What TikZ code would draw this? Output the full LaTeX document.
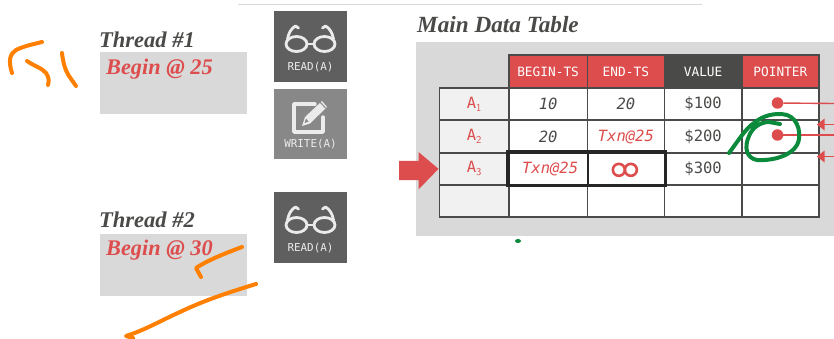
\documentclass[tikz,border=0pt]{standalone}
\usepackage{fontspec}
\setmainfont{Liberation Serif}
\setmonofont{DejaVu Sans Mono}
\definecolor{redc}{HTML}{DD4D4D}
\definecolor{darkc}{HTML}{5F5F5F}
\definecolor{midc}{HTML}{888888}
\definecolor{greyc}{HTML}{D9D9D9}
\definecolor{linec}{HTML}{4A4A48}
\definecolor{orangec}{HTML}{FF8000}
\definecolor{greenc}{HTML}{0B8A3C}
\definecolor{keyc}{HTML}{F1F1F1}
\tikzset{
  titletext/.style={inner sep=0pt,anchor=west,font=\rmfamily\bfseries\itshape\fontsize{22.5}{23}\selectfont,text=linec},
  begintext/.style={inner sep=0pt,anchor=west,font=\rmfamily\bfseries\itshape\fontsize{22.3}{23}\selectfont,text=redc},
  threadbox/.style={fill=greyc,draw=none,inner sep=0pt,anchor=north west,minimum width=147pt,minimum height=62pt},
  opbox/.style={fill=#1,draw=none,inner sep=0pt,anchor=north west,minimum width=73pt,minimum height=70.5pt},
  oplabel/.style={inner sep=0pt,text=white!92!black,font=\ttfamily\fontsize{10.9}{11}\selectfont},
  cell/.style={draw=linec,line width=1.7pt,fill=#1,inner sep=0pt,anchor=north west},
  cell/.default=white,
  hdr/.style={text=white,font=\ttfamily\fontsize{12.8}{13}\selectfont},
  keytext/.style={text=redc,font=\ttfamily\fontsize{15.5}{16}\selectfont},
  monotext/.style={text=linec,font=\ttfamily\fontsize{15.5}{16}\selectfont},
  ittext/.style={text=linec,font=\ttfamily\itshape\fontsize{15.5}{16}\selectfont},
  redit/.style={text=redc,font=\ttfamily\itshape\fontsize{15.5}{16}\selectfont},
  iconline/.style={draw=white!92!black,line width=2.8pt,line cap=round,line join=round},
  ink/.style={line width=4pt,line cap=round,line join=round},
  ptr/.style={draw=redc,line width=1.4pt},
  dot/.style={circle,fill=redc,draw=none,inner sep=0pt,minimum size=11.5pt},
}
\newcommand{\glasses}[2]{%
  \begin{scope}[shift={(#1,#2)}]
    \draw[iconline] (-14,6) circle[x radius=10.5pt,y radius=7.5pt];
    \draw[iconline] (14,6) circle[x radius=10.5pt,y radius=7.5pt];
    \draw[iconline] (-3.5,6) -- (3.5,6);
    \draw[iconline] (-23,1) .. controls (-22,-5) and (-19,-10) .. (-15,-12) -- (-12,-10);
    \draw[iconline] (23,1) .. controls (22,-5) and (19,-10) .. (15,-12) -- (12,-10);
  \end{scope}}
\newcommand{\subA}[1]{A\raisebox{-3pt}{\fontsize{10.5}{11}\selectfont\sffamily #1}}
\begin{document}
\begin{tikzpicture}[x=1pt,y=-1pt]
\useasboundingbox (0,0) rectangle (834,339);
\fill[white] (0,0) rectangle (834,339);
\coordinate (ruleL) at (238,4.5);
\coordinate (ruleR) at (702,4.5);
\draw[greyc,line width=1.5pt] (ruleL) -- (ruleR);

% threads
\node[titletext] (t1) at (99,39.5) {Thread \#1};
\node[threadbox] (b1) at (99.5,52) {};
\node[begintext] (b1t) at (106,69) {Begin @ 25};
\node[titletext] (t2) at (99,220) {Thread \#2};
\node[threadbox] (b2) at (99.5,233.5) {};
\node[begintext] (b2t) at (106,250) {Begin @ 30};

% ops
\node[opbox=darkc] (r1) at (274,11) {};
\glasses{310.5}{38}
\node[oplabel] (r1t) at (310.5,67) {READ(A)};
\node[opbox=midc] (w1) at (274,88.5) {};
\begin{scope}[shift={(310,117)}]
  \draw[iconline,line width=3.4pt] (5,-13) -- (-16,-13) -- (-16,15) -- (13,15) -- (13,0);
  \fill[white!92!black] (-8,9) -- (-5,0) -- (12,-16) -- (17,-10) -- (0,6.5) -- cycle;
  \fill[midc] (-5.5,6) -- (-4,1.5) -- (-1.5,4.5) -- cycle;
  \draw[midc,line width=1pt] (10,-15) -- (15.5,-9);
\end{scope}
\node[oplabel] (w1t) at (310.5,144.5) {WRITE(A)};
\node[opbox=darkc] (r2) at (274,192) {};
\glasses{310.5}{219}
\node[oplabel] (r2t) at (310.5,248) {READ(A)};

% main table
\node[titletext,font=\rmfamily\bfseries\itshape\fontsize{23.2}{24}\selectfont] (mt) at (417,24.5) {Main Data Table};
\fill[greyc] (416,42.5) rectangle (834,236);

% header
\foreach \n/\xa/\xb/\colr/\lab in {h1/508/586.5/redc/BEGIN-TS,h2/586.5/663.5/redc/END-TS,h3/663.5/741/linec/VALUE,h4/741/818/redc/POINTER}{
  \node[draw=linec,line width=1.7pt,fill=\colr,inner sep=0pt,minimum width=\xb pt-\xa pt,minimum height=32.5pt,anchor=north west,hdr] (\n) at (\xa,54.5) {\lab};
}
% rows
\foreach \r/\ya in {1/87,2/119.5,3/152,4/184}{
  \pgfmathsetmacro{\yb}{\ya==184?216:(\ya==152?184:(\ya==119.5?152:119.5))}
  \node[cell=keyc,minimum width=69.5pt,minimum height=\yb pt-\ya pt] (k\r) at (438.5,\ya) {};
  \foreach \c/\xa/\xb in {1/508/586.5,2/586.5/663.5,3/663.5/741,4/741/818}{
    \node[cell,minimum width=\xb pt-\xa pt,minimum height=\yb pt-\ya pt] (c\r\c) at (\xa,\ya) {};
  }
}
\node[keytext] at (k1) {\subA{1}};
\node[keytext] at (k2) {\subA{2}};
\node[keytext] at (k3) {\subA{3}};
\node[ittext] at (c11) {10};
\node[ittext] at (c12) {20};
\node[monotext] at (c13) {\$100};
\node[ittext] at (c21) {20};
\node[redit] at (c22) {Txn@25};
\node[monotext] at (c23) {\$200};
\node[redit,xshift=2pt] at (c31) {Txn@25};
\node[monotext] at (c33) {\$300};
\draw[redc,line width=2.6pt] (c32.center) ++(-7,1) circle[radius=6pt];
\draw[redc,line width=2.6pt] (c32.center) ++(5,1) circle[radius=6pt];
% highlighted box
\draw[draw=black!85,line width=3.4pt] (c31.north west) rectangle (c32.south east);
\draw[draw=black!85,line width=1.7pt] (c31.north east) -- (c31.south east);
% big arrow
\coordinate (arrS) at (399,170.5);
\fill[redc] (arrS) ++(0,-9.5) -- ++(19.5,0) -- ++(0,-9) -- (k3.west) -- (418.5,189.5) -- ++(0,-9.5) -- (399,180) -- cycle;

% pointers
\coordinate (p1e) at (834,103.5);
\coordinate (p2e) at (834,135);
\coordinate (a1s) at (834,124.5);
\coordinate (a1e) at (817,124.5);
\coordinate (a2s) at (834,156.5);
\coordinate (a2e) at (817,156.5);
\node[dot] (d1) at (777.5,103) {};
\node[dot] (d2) at (777.5,135) {};
\draw[ptr] (d1) -- (p1e);
\draw[ptr] (d2) -- (p2e);
\draw[ptr,line width=1.6pt] (a1s) -- (a1e);
\draw[ptr,line width=1.6pt] (a2s) -- (a2e);
\fill[redc] (a1e) -- ++(7.5,-6) -- ++(0,12) -- cycle;
\fill[redc] (a2e) -- ++(7.5,-6) -- ++(0,12) -- cycle;

% orange ink
\draw[ink,orangec] (42,42) .. controls (34,44) and (24,46) .. (16,50) .. controls (10,54) and (8,60) .. (12,73);
\draw[ink,orangec] (27,61) .. controls (34,66) and (42,68) .. (46,73) .. controls (49,77) and (49,81) .. (48,85);
\draw[ink,orangec] (62,53) .. controls (63,62) and (65,70) .. (69,76) -- (76,86);
\draw[ink,orangec] (242,247) .. controls (226,253) and (208,260) .. (196,268) -- (201,277);
\draw[ink,orangec] (256,284) .. controls (230,292) and (205,300) .. (180,312) .. controls (160,321) and (145,330) .. (126,336) -- (133,338);

% green ink
\draw[ink,greenc] (729,153) .. controls (738,141) and (746,128) .. (754,123) .. controls (762,116) and (775,112) .. (787,115) .. controls (799,119) and (802,136) .. (797,145) .. controls (791,156) and (772,161) .. (757,160) .. controls (746,158) and (744,147) .. (749,136) .. controls (752,128) and (760,122) .. (769,122) -- (780,124);
\fill[greenc] (518,241) ellipse[x radius=3pt,y radius=2pt];
\end{tikzpicture}
\end{document}
